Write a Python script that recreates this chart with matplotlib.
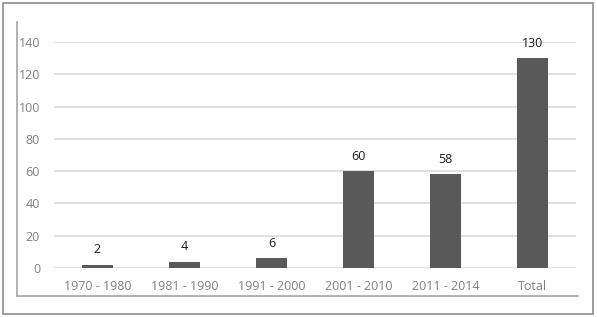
import matplotlib.pyplot as plt
from matplotlib.lines import Line2D
from matplotlib.patches import Rectangle

categories = ["1970 - 1980", "1981 - 1990", "1991 - 2000", "2001 - 2010", "2011 - 2014", "Total"]
counts = [2, 4, 6, 60, 58, 130]
yticks = [0, 20, 40, 60, 80, 100, 120, 140]

plt.rcParams["font.family"] = ["Open Sans", "DejaVu Sans"]

W, H = 597, 317
fig = plt.figure(figsize=(W / 100, H / 100), dpi=100)
ax = fig.add_axes([54 / W, 1 - 268 / H, (576 - 54) / W, (268 - 42) / H])

x = range(len(categories))
ax.bar(x, counts, width=0.36, color="#595959", zorder=3)
for xi, v in zip(x, counts):
    ax.annotate(str(v), (xi, v), xytext=(0, 6), textcoords="offset points",
                ha="center", va="bottom", fontsize=9, color="#1a1a1a", clip_on=False)

ax.set_xlim(-0.5, len(categories) - 0.5)
ax.set_ylim(0, 140)
ax.set_yticks(yticks)
ax.set_xticks(list(x))
ax.set_xticklabels(categories)
ax.yaxis.grid(True, color="#d9d9d9", linewidth=1.2, zorder=0)
ax.tick_params(axis="both", length=0, labelsize=9, labelcolor="#808080")
ax.tick_params(axis="y", pad=10)
ax.tick_params(axis="x", pad=9)
for s in ax.spines.values():
    s.set_visible(False)

# inner frame (left and bottom) and outer border
fig.add_artist(Line2D([17 / W, 17 / W], [1 - 22 / H, 1 - 296 / H], color="#a6a6a6", lw=1.2))
fig.add_artist(Line2D([17 / W, 578 / W], [1 - 296 / H, 1 - 296 / H], color="#a6a6a6", lw=1.2))
fig.add_artist(Rectangle((3 / W, 1 - 314 / H), 590 / W, 311 / H, fill=False,
                         edgecolor="#8c8c8c", lw=1.2, transform=fig.transFigure))

fig.savefig("out.png", dpi=100)
